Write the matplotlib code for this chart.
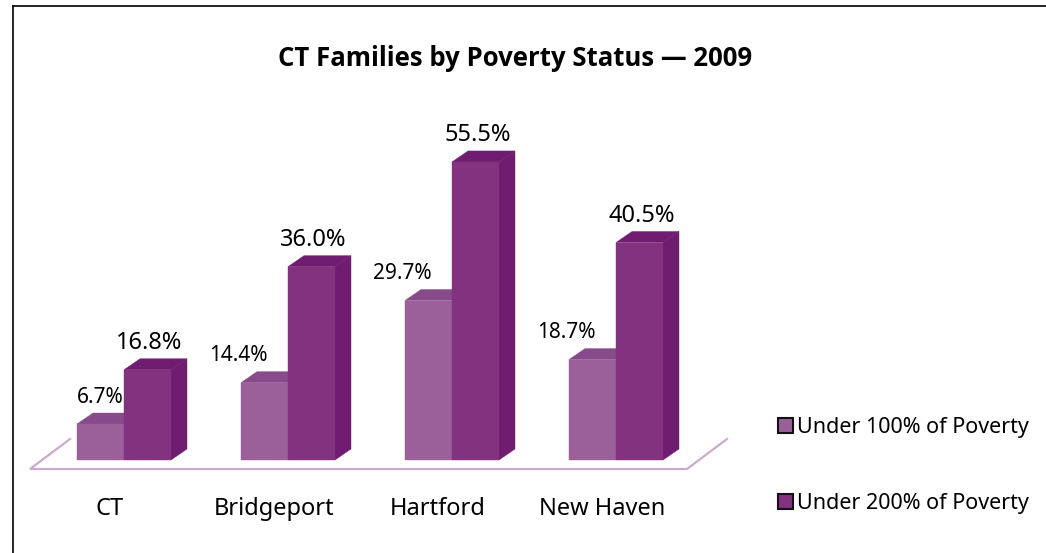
import matplotlib
matplotlib.use("Agg")
import matplotlib.pyplot as plt
from matplotlib.patches import Polygon, Rectangle

plt.rcParams['font.family'] = ['Noto Sans', 'DejaVu Sans']

# --- data ---
cities = ['CT', 'Bridgeport', 'Hartford', 'New Haven']
under_100 = [6.7, 14.4, 29.7, 18.7]
under_200 = [16.8, 36.0, 55.5, 40.5]
series_names = ['Under 100% of Poverty', 'Under 200% of Poverty']

# colours (front, top, side)
LIGHT = ('#9B6099', '#874A8A', '#701C70')
DARK = ('#82327F', '#701C70', '#701C70')
FLOOR = '#CDAACD'

W, H = 1046, 553
fig = plt.figure(figsize=(W / 100, H / 100), dpi=100)

# axes: one x unit is one group, y unit is percent; base sits at pixel y=460
PX_PER_X = 164.0
PX_PER_Y = 5.37
ax_left, ax_right = 77, 77 + 4 * PX_PER_X
ax_bottom, ax_top = 460, 100
ax = fig.add_axes([ax_left / W, 1 - ax_bottom / H, (ax_right - ax_left) / W, (ax_bottom - ax_top) / H])
ax.set_xlim(0, 4)
ax.set_ylim(0, (ax_bottom - ax_top) / PX_PER_Y)
ax.axis('off')

bar_w = 47 / PX_PER_X
dx = 16 / PX_PER_X
dy = 11 / PX_PER_Y

# small labels sit left of the bar, CT is the exception (px from bar left)
small_label_shift = [23, -3, -3, -3]


def bar3d(x, val, colors):
    front, top, side = colors
    ax.add_patch(Polygon([(x + bar_w, 0), (x + bar_w + dx, dy), (x + bar_w + dx, val + dy), (x + bar_w, val)],
                         fc=side, ec=side, lw=0.3, clip_on=False))
    ax.add_patch(Polygon([(x, val), (x + dx, val + dy), (x + bar_w + dx, val + dy), (x + bar_w, val)],
                         fc=top, ec=top, lw=0.3, clip_on=False))
    ax.add_patch(Rectangle((x, 0), bar_w, val, fc=front, ec=front, lw=0.3, clip_on=False))


# floor outline
fy0 = -9 / PX_PER_Y
fy1 = 21 / PX_PER_Y
ax.plot([-7 / PX_PER_X, -47 / PX_PER_X, 610 / PX_PER_X, 650 / PX_PER_X], [fy1, fy0, fy0, fy1],
        color=FLOOR, lw=1.6, clip_on=False, solid_joinstyle='miter')

for i, name in enumerate(cities):
    bar3d(i, under_100[i], LIGHT)
    bar3d(i + bar_w, under_200[i], DARK)
    ax.text(i + small_label_shift[i] / PX_PER_X, under_100[i] + dy + 16 / PX_PER_Y, f'{under_100[i]:.1f}%',
            ha='center', va='center', fontsize=15, color='black', zorder=5)
    ax.text(i + bar_w * 1.5 + 2 / PX_PER_X, under_200[i] + dy + 16 / PX_PER_Y, f'{under_200[i]:.1f}%',
            ha='center', va='center', fontsize=17, color='black')
    ax.text(i + 33 / PX_PER_X, -49 / PX_PER_Y, name, ha='center', va='center', fontsize=17, color='black')

fig.text(515 / W, 1 - 58 / H, 'CT Families by Poverty Status — 2009', ha='center', va='center',
         fontsize=18.5, fontweight='bold', family='Open Sans', color='black')

# legend
for name, col, ypx in zip(series_names, (LIGHT[0], DARK[0]), (425, 501)):
    fig.add_artist(Rectangle((777.5 / W, 1 - (ypx + 7.5) / H), 15 / W, 15 / H, transform=fig.transFigure,
                             fc=col, ec='#151015', lw=1.5))
    fig.text(797 / W, 1 - (ypx + 2) / H, name, ha='left', va='center', fontsize=15.5, color='black')

# outer frame
fig.add_artist(plt.Line2D([13 / W, 13 / W], [0, 1 - 6 / H], color='black', lw=1.2))
fig.add_artist(plt.Line2D([13 / W, 1], [1 - 6 / H, 1 - 6 / H], color='black', lw=1.2))

fig.savefig('out.png', dpi=100)
